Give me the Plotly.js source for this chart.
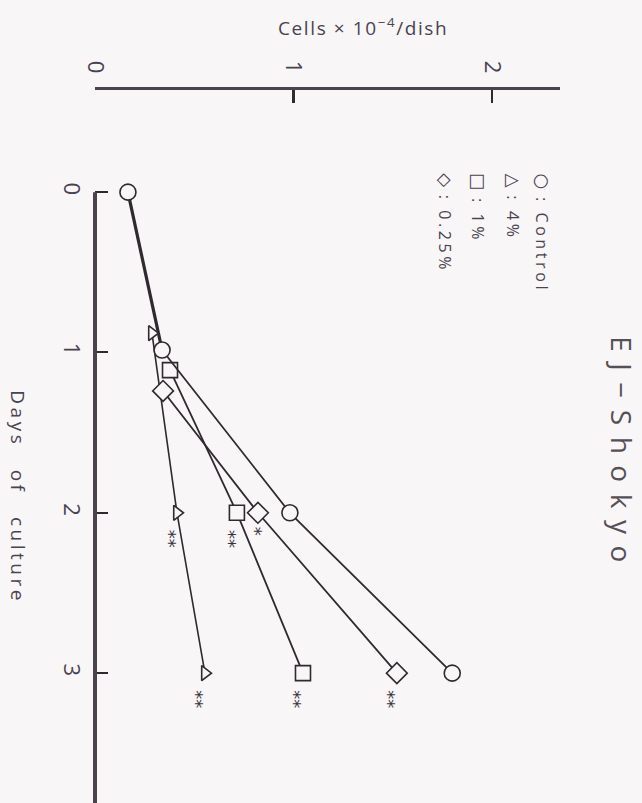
<!DOCTYPE html>
<html>
<head>
<meta charset="utf-8">
<script src="https://cdn.plot.ly/plotly-3.0.1.min.js"></script>
<style>
  html, body { margin: 0; padding: 0; background: #f8f6f7; }
  #chart { width: 642px; height: 803px; }
</style>
</head>
<body>
<div id="chart"></div>
<script>
// ---- Data ----
var seriesNames   = ['Control', '4%', '1%', '0.25%'];
var controlDays   = [0, 0.985, 2, 3];
var controlCells  = [0.166, 0.338, 0.982, 1.80];
var controlSig    = ['', '', '', ''];
var tri4Days      = [0.88, 2, 3];
var tri4Cells     = [0.287, 0.413, 0.554];
var tri4Sig       = ['', '**', '**'];
var sq1Days       = [1.11, 2, 3];
var sq1Cells      = [0.378, 0.715, 1.048];
var sq1Sig        = ['', '**', '**'];
var dia025Days    = [1.24, 2, 3];
var dia025Cells   = [0.343, 0.821, 1.521];
var dia025Sig     = ['', '*', '**'];
var cellTicks     = [0, 1, 2];
var dayTicks      = [0, 1, 2, 3];
var legendSymbols = ['○', '△', '□', '◇'];

var ink = '#2e2a30';
var txt = '#4a4250';
var bg  = '#f8f6f7';

function mk(sym, size) {
  return { symbol: sym, size: size, color: bg, line: { color: ink, width: 1.6 } };
}

var traces = [
  { x: controlCells.slice(0, 2), y: controlDays.slice(0, 2), mode: 'lines',
    line: { color: ink, width: 3.2 }, hoverinfo: 'skip', showlegend: false },
  { x: tri4Cells, y: tri4Days, mode: 'lines+markers', name: seriesNames[1],
    line: { color: ink, width: 1.6 }, marker: mk('triangle-right', 13) },
  { x: sq1Cells, y: sq1Days, mode: 'lines+markers', name: seriesNames[2],
    line: { color: ink, width: 1.8 }, marker: mk('square', 15) },
  { x: dia025Cells, y: dia025Days, mode: 'lines+markers', name: seriesNames[3],
    line: { color: ink, width: 1.8 }, marker: mk('diamond', 16) },
  { x: controlCells.slice(1), y: controlDays.slice(1), mode: 'lines', showlegend: false,
    line: { color: ink, width: 1.8 }, hoverinfo: 'skip' },
  { x: controlCells, y: controlDays, mode: 'markers', name: seriesNames[0],
    marker: mk('circle', 16) }
];

var annotations = [];
function addSig(xs, ys, sig) {
  for (var i = 0; i < sig.length; i++) {
    if (!sig[i]) continue;
    var dbl = sig[i].length === 2;
    annotations.push({
      x: xs[i], y: ys[i], xref: 'x', yref: 'y', text: sig[i], showarrow: false,
      xanchor: 'center', yanchor: 'middle',
      textangle: 90, font: { family: 'DejaVu Sans', size: 18, color: '#3a3340' },
      xshift: dbl ? -8 : -3, yshift: dbl ? -26 : -19
    });
  }
}
addSig(tri4Cells, tri4Days, tri4Sig);
addSig(sq1Cells, sq1Days, sq1Sig);
addSig(dia025Cells, dia025Days, dia025Sig);
addSig(controlCells, controlDays, controlSig);

// legend as rotated text
var legendX = [0.961, 0.899, 0.824, 0.753];
for (var k = 0; k < seriesNames.length; k++) {
  annotations.push({
    x: legendX[k], y: 0.886, xref: 'paper', yref: 'paper',
    xanchor: 'center', yanchor: 'top', showarrow: false, textangle: 90,
    text: '<span style="font-family:DejaVu Sans;font-size:18px">' + legendSymbols[k] +
          '</span><span style="letter-spacing:3.6px"> : ' + seriesNames[k] + '</span>',
    font: { family: 'Open Sans', size: 16, color: txt }
  });
}

// titles
annotations.push({
  x: 1.133, y: 0.488, xref: 'paper', yref: 'paper', showarrow: false, textangle: 90,
  xanchor: 'center', yanchor: 'middle',
  text: '<span style="letter-spacing:11.5px">EJ−Shokyo</span>',
  font: { family: 'Open Sans', size: 28, color: '#555055' }
});
annotations.push({
  x: -0.166, y: 0.429, xref: 'paper', yref: 'paper', showarrow: false, textangle: 90,
  xanchor: 'center', yanchor: 'middle',
  text: '<span style="letter-spacing:3.5px;word-spacing:14px">Days of culture</span>',
  font: { family: 'Open Sans', size: 19, color: txt }
});
annotations.push({
  x: 0.576, y: 1.088, xref: 'paper', yref: 'paper', showarrow: false,
  xanchor: 'center', yanchor: 'middle',
  text: '<span style="letter-spacing:1.6px">Cells × 10<sup>−4</sup>/dish</span>',
  font: { family: 'Open Sans', size: 19, color: txt }
});

var layout = {
  width: 642, height: 803,
  margin: { l: 95, r: 82, t: 90, b: 0 },
  paper_bgcolor: bg, plot_bgcolor: bg,
  showlegend: false,
  xaxis: {
    side: 'top', range: [0, 2.343], tickvals: cellTicks, ticktext: cellTicks.map(String),
    tickangle: 90, ticks: 'inside', ticklen: 13, tickwidth: 2.5, tickcolor: ink,
    showline: true, linecolor: '#4a424c', linewidth: 3, showgrid: false, zeroline: false,
    tickfont: { family: 'Open Sans', size: 22, color: txt }, ticklabelstandoff: 6
  },
  yaxis: {
    range: [3.81, -0.637], tickvals: dayTicks, ticktext: dayTicks.map(String),
    tickangle: 90, ticks: 'inside', ticklen: 13, tickwidth: 2, tickcolor: ink,
    showline: false, showgrid: false, zeroline: false,
    tickfont: { family: 'Open Sans', size: 22, color: txt }, ticklabelstandoff: 8
  },
  shapes: [
    { type: 'line', xref: 'paper', yref: 'y', x0: 0, x1: 0, y0: dayTicks[0], y1: 3.81,
      line: { color: '#4a424c', width: 4 } }
  ],
  annotations: annotations
};

Plotly.newPlot('chart', traces, layout, { staticPlot: true, displayModeBar: false });
</script>
</body>
</html>
